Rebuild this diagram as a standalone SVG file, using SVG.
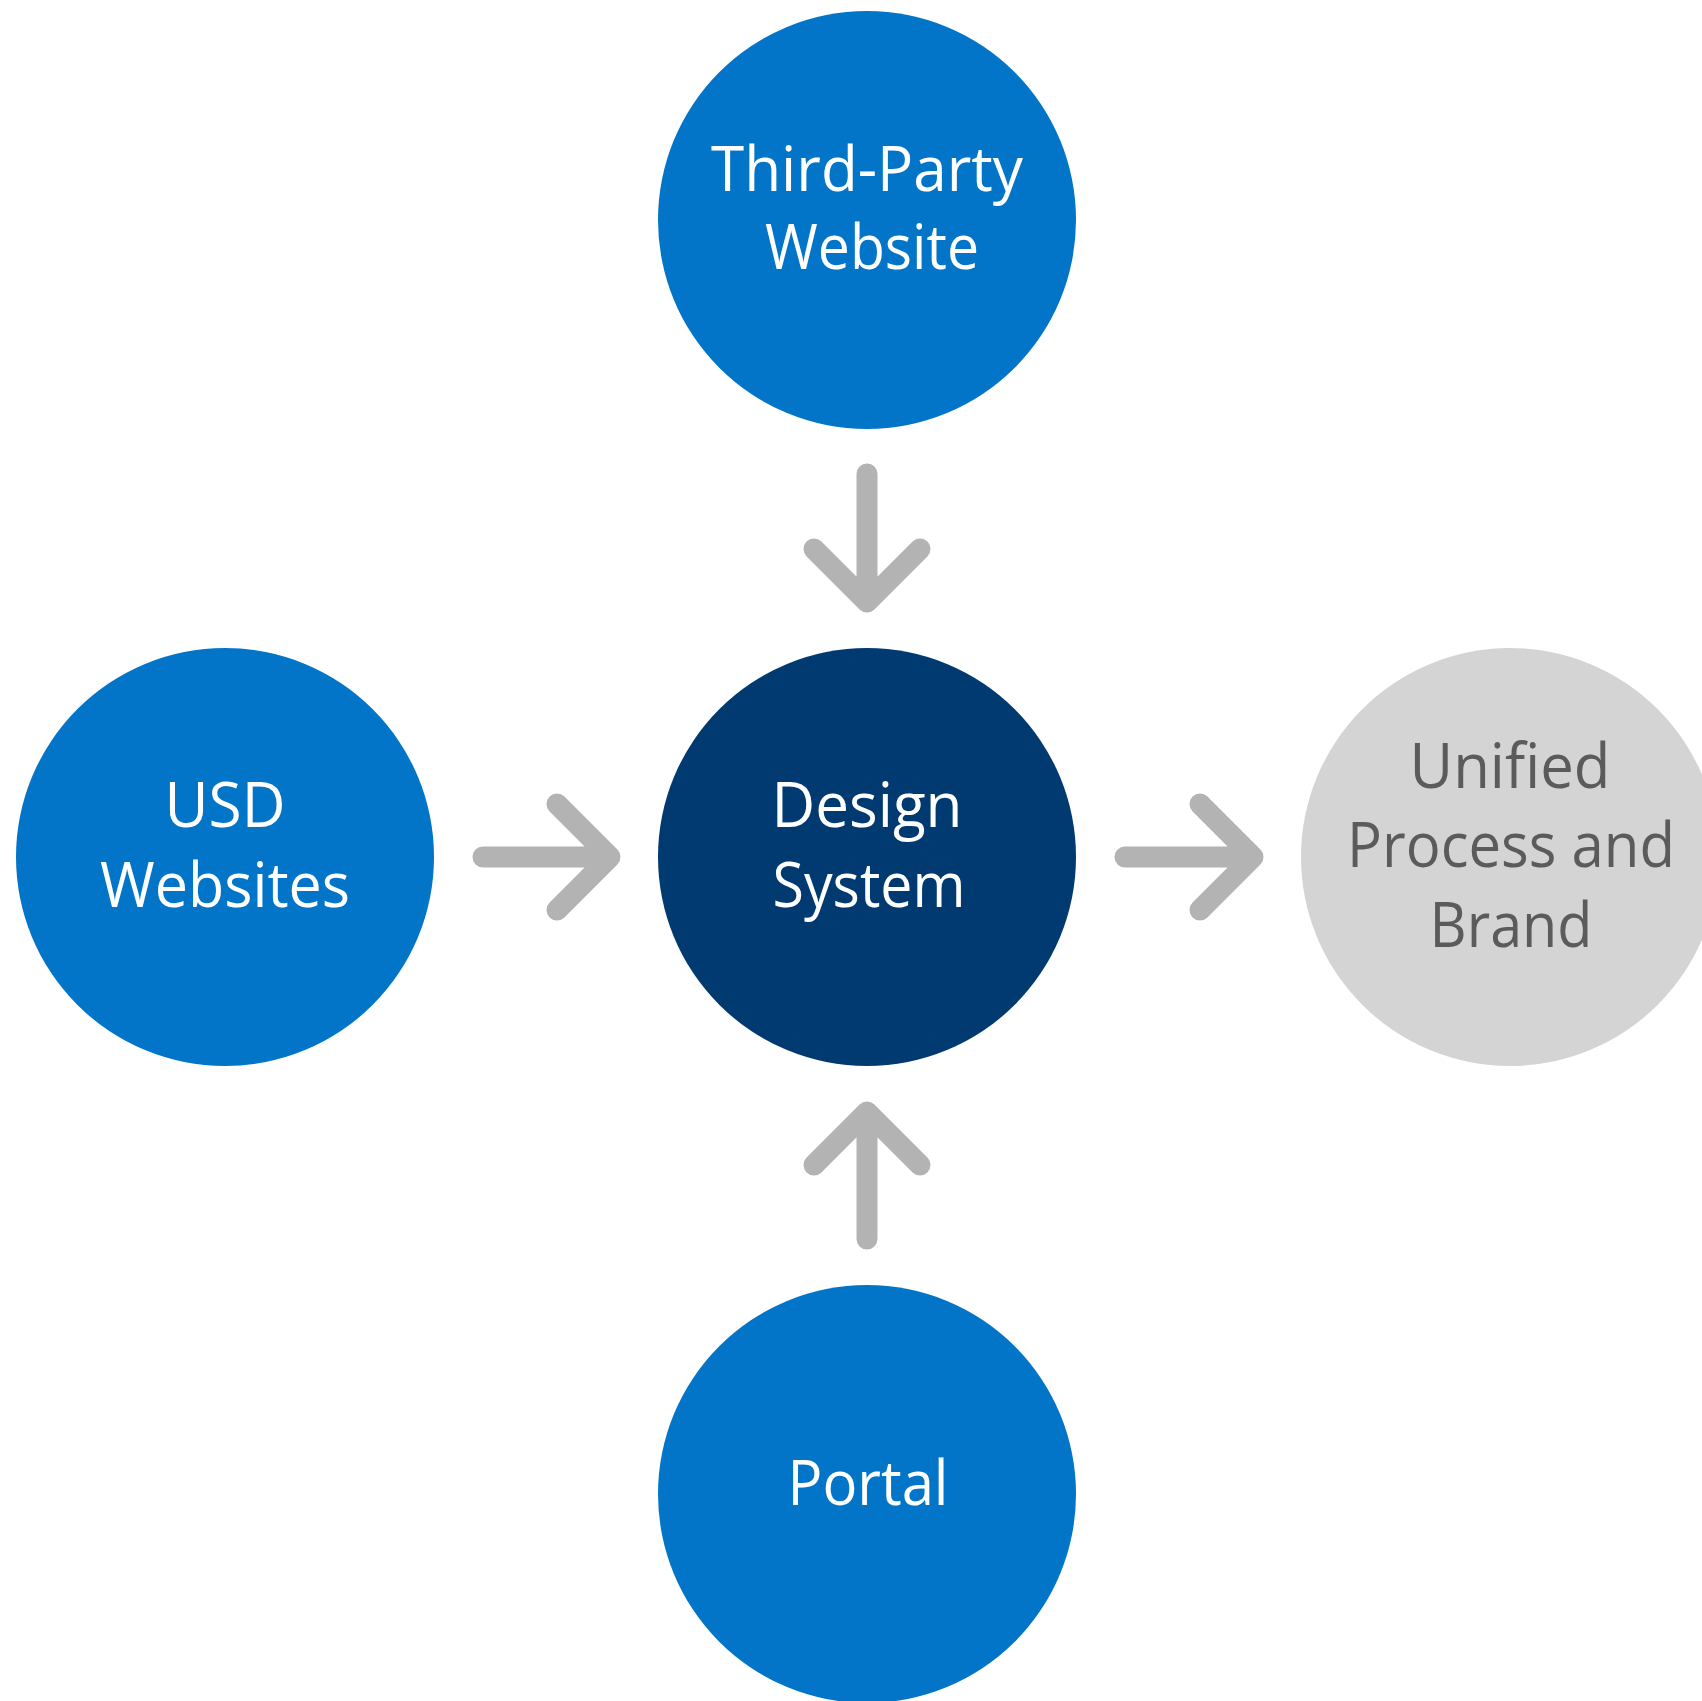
<svg xmlns="http://www.w3.org/2000/svg" width="1702" height="1701" viewBox="0 0 1702 1701">
<style>
.blue{fill:#0275c9}
.navy{fill:#003a70}
.grey{fill:#d4d4d4}
.t{font-family:"Open Sans","Noto Sans","Liberation Sans",sans-serif;font-size:63px;text-anchor:middle}
.w{fill:#ffffff}
.g{fill:#5b5b5b}
.arr{fill:none;stroke:#b3b3b3;stroke-width:21;stroke-linecap:round;stroke-linejoin:round}
</style>
<rect width="1702" height="1701" fill="#ffffff"/>
<g id="connectors">
<path class="arr" d="M867 474V598M814 549L867 602L920 549"/>
<path class="arr" d="M867 1239V1117M814 1165L867 1112L920 1165"/>
<path class="arr" d="M483 857H606M557 804L610 857L557 910"/>
<path class="arr" d="M1125 857H1249M1200 804L1253 857L1200 910"/>
</g>
<g id="node-third-party">
<circle class="blue" cx="867" cy="220" r="209"/>
<text class="t w" x="867" y="191" textLength="312" lengthAdjust="spacingAndGlyphs">Third-Party</text>
<text class="t w" x="872" y="269" textLength="214" lengthAdjust="spacingAndGlyphs">Website</text>
</g>
<g id="node-usd">
<circle class="blue" cx="225" cy="857" r="209"/>
<text class="t w" x="225" y="827" textLength="121" lengthAdjust="spacingAndGlyphs">USD</text>
<text class="t w" x="225" y="907" textLength="250" lengthAdjust="spacingAndGlyphs">Websites</text>
</g>
<g id="node-design-system">
<circle class="navy" cx="867" cy="857" r="209"/>
<text class="t w" x="867" y="827" textLength="191" lengthAdjust="spacingAndGlyphs">Design</text>
<text class="t w" x="869" y="907" textLength="193" lengthAdjust="spacingAndGlyphs">System</text>
</g>
<g id="node-unified">
<circle class="grey" cx="1510" cy="857" r="209"/>
<text class="t g" x="1510" y="788" textLength="201" lengthAdjust="spacingAndGlyphs">Unified</text>
<text class="t g" x="1511" y="867" textLength="328" lengthAdjust="spacingAndGlyphs">Process and</text>
<text class="t g" x="1511" y="947" textLength="163" lengthAdjust="spacingAndGlyphs">Brand</text>
</g>
<g id="node-portal">
<circle class="blue" cx="867" cy="1494" r="209"/>
<text class="t w" x="868" y="1505" textLength="161" lengthAdjust="spacingAndGlyphs">Portal</text>
</g>
</svg>
